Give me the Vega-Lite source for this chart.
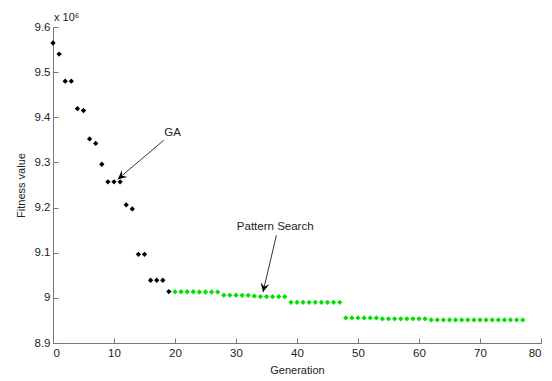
{
  "$schema": "https://vega.github.io/schema/vega-lite/v6.json",
  "width": 488,
  "height": 316,
  "autosize": {"type": "none"},
  "padding": {"left": 53, "top": 27, "right": 11, "bottom": 38},
  "background": "white",
  "config": {"view": {"stroke": null}, "font": "Liberation Sans"},
  "title": {"text": "x 10⁶", "anchor": "start", "frame": "group", "baseline": "alphabetic", "offset": -11, "dx": 1, "fontSize": 11, "fontWeight": "normal", "color": "#222", "font": "Liberation Sans"},
  "datasets": {
    "fitness": [
      {"generation": 0, "fitness": 9564600, "series": "GA"},
      {"generation": 1, "fitness": 9540000, "series": "GA"},
      {"generation": 2, "fitness": 9480000, "series": "GA"},
      {"generation": 3, "fitness": 9480000, "series": "GA"},
      {"generation": 4, "fitness": 9419000, "series": "GA"},
      {"generation": 5, "fitness": 9415000, "series": "GA"},
      {"generation": 6, "fitness": 9352000, "series": "GA"},
      {"generation": 7, "fitness": 9342000, "series": "GA"},
      {"generation": 8, "fitness": 9296000, "series": "GA"},
      {"generation": 9, "fitness": 9257000, "series": "GA"},
      {"generation": 10, "fitness": 9257000, "series": "GA"},
      {"generation": 11, "fitness": 9257000, "series": "GA"},
      {"generation": 12, "fitness": 9206000, "series": "GA"},
      {"generation": 13, "fitness": 9197000, "series": "GA"},
      {"generation": 14, "fitness": 9096500, "series": "GA"},
      {"generation": 15, "fitness": 9096500, "series": "GA"},
      {"generation": 16, "fitness": 9039000, "series": "GA"},
      {"generation": 17, "fitness": 9039000, "series": "GA"},
      {"generation": 18, "fitness": 9039000, "series": "GA"},
      {"generation": 19, "fitness": 9014000, "series": "GA"},
      {"generation": 20, "fitness": 9013500, "series": "Pattern Search"},
      {"generation": 21, "fitness": 9013500, "series": "Pattern Search"},
      {"generation": 22, "fitness": 9013500, "series": "Pattern Search"},
      {"generation": 23, "fitness": 9013500, "series": "Pattern Search"},
      {"generation": 24, "fitness": 9013000, "series": "Pattern Search"},
      {"generation": 25, "fitness": 9013000, "series": "Pattern Search"},
      {"generation": 26, "fitness": 9013000, "series": "Pattern Search"},
      {"generation": 27, "fitness": 9013000, "series": "Pattern Search"},
      {"generation": 28, "fitness": 9006000, "series": "Pattern Search"},
      {"generation": 29, "fitness": 9006000, "series": "Pattern Search"},
      {"generation": 30, "fitness": 9006000, "series": "Pattern Search"},
      {"generation": 31, "fitness": 9005500, "series": "Pattern Search"},
      {"generation": 32, "fitness": 9005500, "series": "Pattern Search"},
      {"generation": 33, "fitness": 9004000, "series": "Pattern Search"},
      {"generation": 34, "fitness": 9002500, "series": "Pattern Search"},
      {"generation": 35, "fitness": 9002500, "series": "Pattern Search"},
      {"generation": 36, "fitness": 9002500, "series": "Pattern Search"},
      {"generation": 37, "fitness": 9002500, "series": "Pattern Search"},
      {"generation": 38, "fitness": 9002500, "series": "Pattern Search"},
      {"generation": 39, "fitness": 8990000, "series": "Pattern Search"},
      {"generation": 40, "fitness": 8990000, "series": "Pattern Search"},
      {"generation": 41, "fitness": 8990000, "series": "Pattern Search"},
      {"generation": 42, "fitness": 8990000, "series": "Pattern Search"},
      {"generation": 43, "fitness": 8990000, "series": "Pattern Search"},
      {"generation": 44, "fitness": 8990000, "series": "Pattern Search"},
      {"generation": 45, "fitness": 8990000, "series": "Pattern Search"},
      {"generation": 46, "fitness": 8990000, "series": "Pattern Search"},
      {"generation": 47, "fitness": 8990000, "series": "Pattern Search"},
      {"generation": 48, "fitness": 8955500, "series": "Pattern Search"},
      {"generation": 49, "fitness": 8955500, "series": "Pattern Search"},
      {"generation": 50, "fitness": 8955500, "series": "Pattern Search"},
      {"generation": 51, "fitness": 8955500, "series": "Pattern Search"},
      {"generation": 52, "fitness": 8955500, "series": "Pattern Search"},
      {"generation": 53, "fitness": 8955500, "series": "Pattern Search"},
      {"generation": 54, "fitness": 8953500, "series": "Pattern Search"},
      {"generation": 55, "fitness": 8953500, "series": "Pattern Search"},
      {"generation": 56, "fitness": 8953500, "series": "Pattern Search"},
      {"generation": 57, "fitness": 8953500, "series": "Pattern Search"},
      {"generation": 58, "fitness": 8953500, "series": "Pattern Search"},
      {"generation": 59, "fitness": 8953500, "series": "Pattern Search"},
      {"generation": 60, "fitness": 8953500, "series": "Pattern Search"},
      {"generation": 61, "fitness": 8953500, "series": "Pattern Search"},
      {"generation": 62, "fitness": 8951000, "series": "Pattern Search"},
      {"generation": 63, "fitness": 8951000, "series": "Pattern Search"},
      {"generation": 64, "fitness": 8951000, "series": "Pattern Search"},
      {"generation": 65, "fitness": 8951000, "series": "Pattern Search"},
      {"generation": 66, "fitness": 8951000, "series": "Pattern Search"},
      {"generation": 67, "fitness": 8951000, "series": "Pattern Search"},
      {"generation": 68, "fitness": 8951000, "series": "Pattern Search"},
      {"generation": 69, "fitness": 8951000, "series": "Pattern Search"},
      {"generation": 70, "fitness": 8951000, "series": "Pattern Search"},
      {"generation": 71, "fitness": 8951000, "series": "Pattern Search"},
      {"generation": 72, "fitness": 8951000, "series": "Pattern Search"},
      {"generation": 73, "fitness": 8951000, "series": "Pattern Search"},
      {"generation": 74, "fitness": 8951000, "series": "Pattern Search"},
      {"generation": 75, "fitness": 8951000, "series": "Pattern Search"},
      {"generation": 76, "fitness": 8951000, "series": "Pattern Search"},
      {"generation": 77, "fitness": 8951000, "series": "Pattern Search"}
    ],
    "notes": [
      {"name": "GA", "tx": 19.62, "ty": 9364500, "x0": 18.15, "y0": 9349000, "x1": 10.62, "y1": 9263000},
      {"name": "Pattern Search", "tx": 36.43, "ty": 9156300, "x0": 36.62, "y0": 9138600, "x1": 34.43, "y1": 9013000}
    ]
  },
  "layer": [
    {
      "data": {"name": "fitness"},
      "mark": {"type": "point", "shape": "diamond", "filled": true, "size": 28, "opacity": 1},
      "encoding": {
        "x": {
          "field": "generation", "type": "quantitative",
          "scale": {"domain": [0, 80], "nice": false, "zero": false},
          "axis": {
            "title": "Generation", "values": [0, 10, 20, 30, 40, 50, 60, 70, 80],
            "grid": false, "domainColor": "#777", "tickColor": "#777", "tickSize": -5,
            "labelPadding": 9, "labelFontSize": 11.5, "labelColor": "#222", "labelFont": "Liberation Sans",
            "titleFontSize": 11, "titleFontWeight": "normal", "titleColor": "#222", "titleFont": "Liberation Sans",
            "titleY": 30, "titleBaseline": "alphabetic"
          }
        },
        "y": {
          "field": "fitness", "type": "quantitative",
          "scale": {"domain": [8900000, 9600000], "nice": false, "zero": false},
          "axis": {
            "title": "Fitness value",
            "values": [8900000, 9000000, 9100000, 9200000, 9300000, 9400000, 9500000, 9600000],
            "labelExpr": "format(datum.value / 1000000, '.1~f')",
            "grid": false, "domainColor": "#777", "tickColor": "#777", "tickSize": -5,
            "labelPadding": 8, "labelFontSize": 11.5, "labelColor": "#222", "labelFont": "Liberation Sans",
            "titleFontSize": 11, "titleFontWeight": "normal", "titleColor": "#222", "titleFont": "Liberation Sans",
            "titleX": -29, "titleY": 158, "titleBaseline": "alphabetic"
          }
        },
        "color": {
          "field": "series", "type": "nominal",
          "scale": {"domain": ["GA", "Pattern Search"], "range": ["#000000", "#00e000"]},
          "legend": null
        }
      }
    },
    {
      "data": {"name": "notes"},
      "mark": {"type": "rule", "color": "#333", "strokeWidth": 1},
      "encoding": {
        "x": {"field": "x0", "type": "quantitative"},
        "y": {"field": "y0", "type": "quantitative"},
        "x2": {"field": "x1"},
        "y2": {"field": "y1"}
      }
    },
    {
      "data": {"name": "notes"},
      "mark": {"type": "text", "fontSize": 11.5, "color": "#222", "font": "Liberation Sans", "baseline": "middle", "align": "center"},
      "encoding": {
        "x": {"field": "tx", "type": "quantitative"},
        "y": {"field": "ty", "type": "quantitative"},
        "text": {"field": "name"}
      }
    },
    {
      "data": {"name": "notes"},
      "transform": [{"filter": "datum.name == 'GA'"}],
      "mark": {"type": "point", "shape": "M0,0L-0.5,1L0,0.6L0.5,1Z", "filled": true, "color": "#000", "opacity": 1, "size": 324, "angle": 231},
      "encoding": {
        "x": {"field": "x1", "type": "quantitative"},
        "y": {"field": "y1", "type": "quantitative"}
      }
    },
    {
      "data": {"name": "notes"},
      "transform": [{"filter": "datum.name == 'Pattern Search'"}],
      "mark": {"type": "point", "shape": "M0,0L-0.5,1L0,0.6L0.5,1Z", "filled": true, "color": "#000", "opacity": 1, "size": 324, "angle": 193},
      "encoding": {
        "x": {"field": "x1", "type": "quantitative"},
        "y": {"field": "y1", "type": "quantitative"}
      }
    }
  ]
}
